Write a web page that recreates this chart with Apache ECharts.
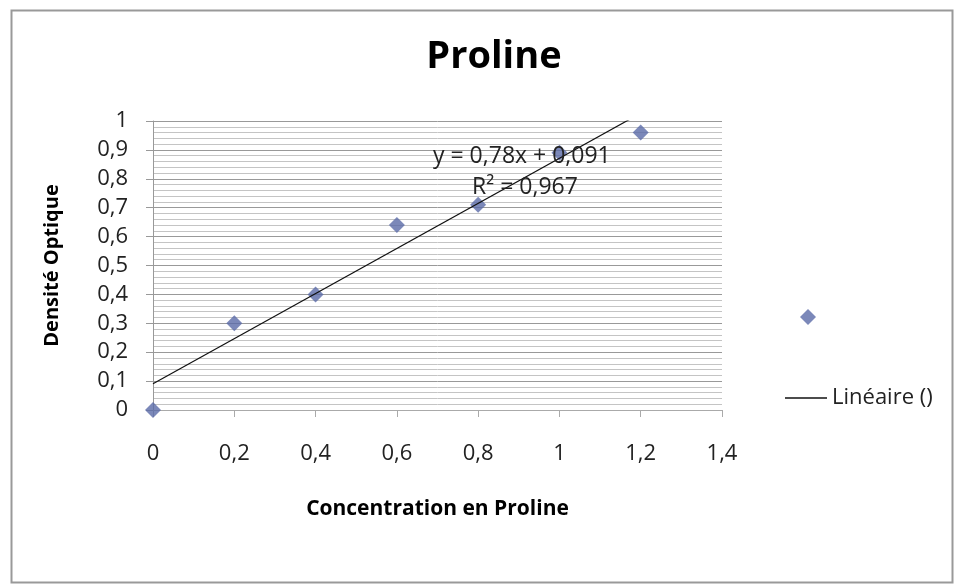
<!DOCTYPE html>
<html>
<head>
<meta charset="utf-8">
<script src="https://cdn.jsdelivr.net/npm/echarts@6/dist/echarts.min.js"></script>
<style>
  html, body { margin: 0; padding: 0; background: #fff; }
  #chart { width: 957px; height: 585px; }
</style>
</head>
<body>
<div id="chart"></div>
<script>
// measured points
const concentration = [0, 0.2, 0.4, 0.6, 0.8, 1.0, 1.2]
const density = [0, 0.30, 0.40, 0.64, 0.71, 0.89, 0.96]
// trendline given in the chart
const slope = 0.78
const intercept = 0.091
const r2 = 0.967

const fmt = v => String(Math.round(v * 10) / 10).replace('.', ',')
const font = '"Open Sans", "DejaVu Sans", sans-serif'

const chart = echarts.init(document.getElementById('chart'))

const points = concentration.map((x, i) => [x, density[i]])
const xEnd = concentration[concentration.length - 1]
const trend = [[0, intercept], [xEnd, slope * xEnd + intercept]]

chart.setOption({
  animation: false,
  backgroundColor: '#fff',
  title: {
    text: 'Proline',
    left: 489,
    textAlign: 'center',
    top: 33,
    textStyle: { fontFamily: font, fontSize: 38, fontWeight: 'bold', color: '#000' }
  },
  grid: { left: 153, top: 121, width: 569, height: 289 },
  legend: [
    {
      orient: 'vertical',
      left: 795,
      top: 304,
      itemWidth: 16,
      itemHeight: 16,
      textStyle: { fontSize: 1 },
      data: [{ name: ' ', icon: 'diamond' }]
    },
    {
      orient: 'vertical',
      left: 780,
      top: 382,
      itemWidth: 42,
      itemHeight: 1.5,
      textStyle: { fontFamily: font, fontSize: 22, color: '#222' },
      data: [{ name: 'Linéaire ()', icon: 'rect' }]
    }
  ],
  xAxis: {
    type: 'value',
    min: 0,
    max: 1.4,
    interval: 0.2,
    name: 'Concentration en Proline',
    nameLocation: 'middle',
    nameGap: 89,
    nameTextStyle: { fontFamily: font, fontSize: 21, fontWeight: 'bold', color: '#000' },
    axisLine: { show: true, lineStyle: { color: '#aaa' } },
    axisTick: { show: true, length: 7, lineStyle: { color: '#aaa' } },
    axisLabel: { fontFamily: font, fontSize: 22, color: '#222', margin: 33, formatter: fmt },
    splitLine: { show: false }
  },
  yAxis: {
    type: 'value',
    min: 0,
    max: 1,
    interval: 0.1,
    name: 'Densité Optique',
    nameLocation: 'middle',
    nameGap: 91,
    nameRotate: 90,
    nameTextStyle: { fontFamily: font, fontSize: 20, fontWeight: 'bold', color: '#000' },
    axisLine: { show: true, lineStyle: { color: '#999' } },
    axisTick: { show: true, length: 7, lineStyle: { color: '#999' } },
    axisLabel: { fontFamily: font, fontSize: 22, color: '#222', margin: 25, formatter: fmt },
    splitLine: { show: true, lineStyle: { color: '#999', width: 1 } },
    minorTick: { show: false, splitNumber: 5 },
    minorSplitLine: { show: true, lineStyle: { color: '#c4c4c4', width: 1 } }
  },
  graphic: [
    {
      type: 'rect',
      left: 9,
      top: 8,
      shape: { width: 941, height: 572 },
      style: { fill: 'none', stroke: '#999', lineWidth: 2 },
      silent: true
    },
    {
      type: 'text',
      left: 433,
      top: 145,
      z: 10,
      style: { text: 'y = 0,78x + 0,091', fontFamily: font, fontSize: 23, fill: '#222' }
    },
    {
      type: 'text',
      left: 472,
      top: 176,
      z: 10,
      style: { text: 'R² = ' + String(r2).replace('.', ','), fontFamily: font, fontSize: 23, fill: '#222' }
    }
  ],
  series: [
    {
      name: ' ',
      type: 'scatter',
      data: points,
      symbol: 'diamond',
      symbolSize: 16,
      itemStyle: { color: '#5a6aa8' }
    },
    {
      name: 'Linéaire ()',
      type: 'line',
      data: trend,
      symbol: 'none',
      clip: true,
      lineStyle: { color: '#111', width: 1.2 },
      itemStyle: { color: '#111' },
      z: 3
    }
  ]
})
</script>
</body>
</html>
